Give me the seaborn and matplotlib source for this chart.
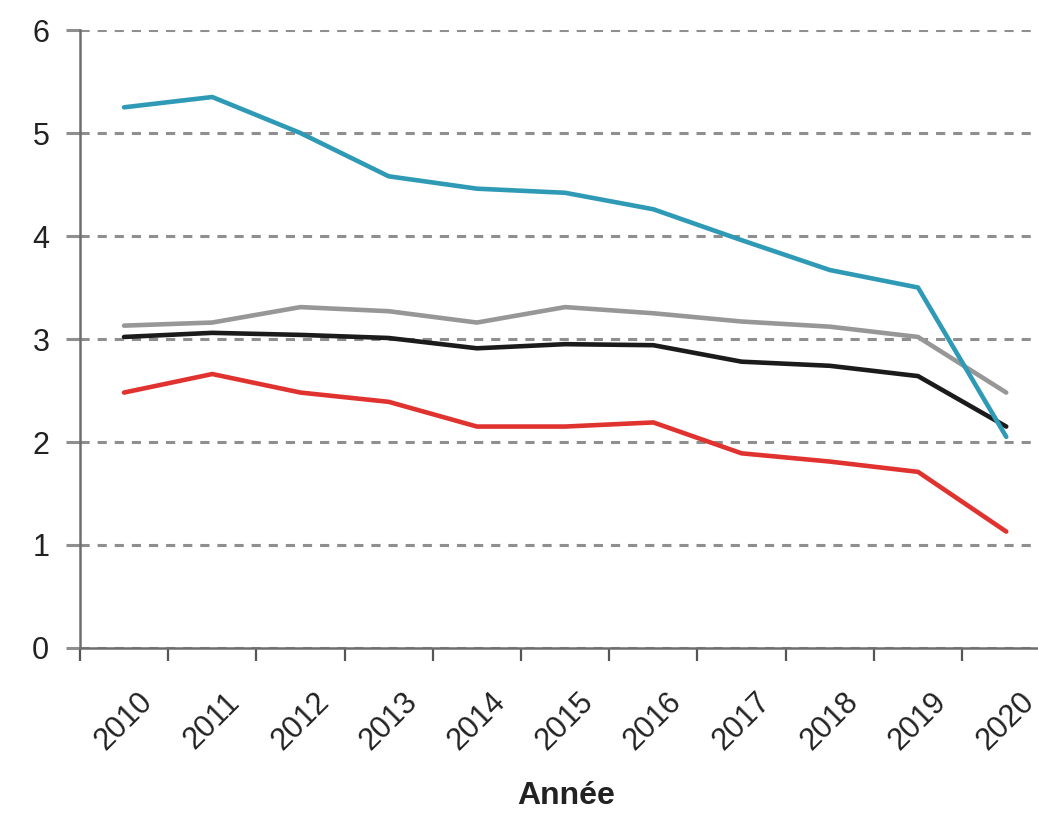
import matplotlib
matplotlib.use("Agg")
import matplotlib.pyplot as plt
import pandas as pd
import seaborn as sns
from matplotlib.ticker import FixedLocator

years = ["2010", "2011", "2012", "2013", "2014", "2015", "2016", "2017", "2018", "2019", "2020"]
serie_rouge = [2.48, 2.66, 2.48, 2.39, 2.15, 2.15, 2.19, 1.89, 1.81, 1.71, 1.13]
serie_noire = [3.02, 3.06, 3.04, 3.01, 2.91, 2.95, 2.94, 2.78, 2.74, 2.64, 2.15]
serie_grise = [3.13, 3.16, 3.31, 3.27, 3.16, 3.31, 3.25, 3.17, 3.12, 3.02, 2.48]
serie_bleue = [5.25, 5.35, 5.00, 4.58, 4.46, 4.42, 4.26, 3.96, 3.67, 3.50, 2.05]

series = {
    "rouge": serie_rouge,
    "noir": serie_noire,
    "gris": serie_grise,
    "bleu": serie_bleue,
}
palette = {"rouge": "#e0322f", "noir": "#1b1b1b", "gris": "#979797", "bleu": "#2f9ab6"}

df = pd.concat(
    [pd.DataFrame({"Année": years, "valeur": vals, "serie": name}) for name, vals in series.items()],
    ignore_index=True,
)

sns.set_style("white")
plt.rcParams["font.family"] = ["Liberation Sans Narrow", "Liberation Sans", "DejaVu Sans"]

fig = plt.figure(figsize=(10.38, 8.13), dpi=100)
ax = fig.add_axes([0.077, 0.203, 0.923, 0.760])

sns.lineplot(data=df, x="Année", y="valeur", hue="serie", palette=palette,
             linewidth=3.3, legend=False, ax=ax, sort=False)

ax.set_ylim(0, 6)
ax.set_xlim(-0.5, 10.36)
ax.set_yticks(range(0, 7))
ax.yaxis.grid(True, linestyle=(0, (3, 2.6)), color="#8f8f8f", linewidth=2.2)
ax.xaxis.grid(False)
ax.set_axisbelow(True)

for side in ["top", "right"]:
    ax.spines[side].set_visible(False)
for side in ["left", "bottom"]:
    ax.spines[side].set_color("#6e6e6e")
    ax.spines[side].set_linewidth(1.8)

# year labels centred under each point, tick marks on the category boundaries
ax.xaxis.set_minor_locator(FixedLocator([i - 0.5 for i in range(11)]))
ax.tick_params(axis="x", which="both", bottom=True)
ax.tick_params(axis="x", which="major", length=0, pad=28, labelsize=22, labelrotation=45)
ax.tick_params(axis="x", which="minor", length=9, width=1.6, color="#555555", direction="out")
ax.tick_params(axis="y", left=True, length=10, width=2.2, color="#8f8f8f",
               labelsize=22, labelcolor="#222222", pad=12)
for lab in ax.get_xticklabels():
    lab.set_ha("center")
    lab.set_va("top")
    lab.set_color("#222222")

ax.set_xlabel("Année", fontsize=23, fontweight="bold", color="#222222")
ax.xaxis.set_label_coords(0.508, -0.215)
ax.set_ylabel("")

fig.savefig("out.png", dpi=100)
